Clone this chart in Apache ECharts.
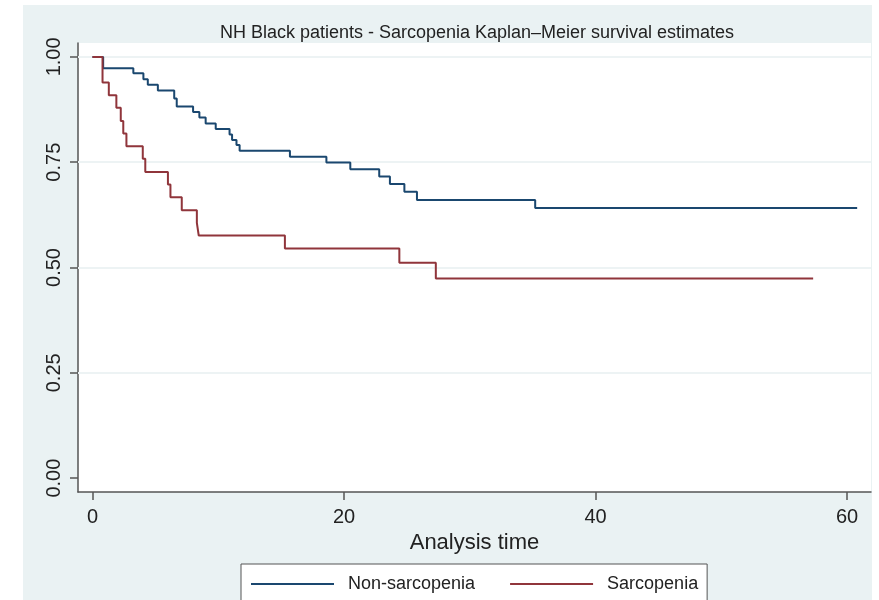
<!DOCTYPE html>
<html>
<head>
<meta charset="utf-8">
<script src="https://cdn.jsdelivr.net/npm/echarts@6/dist/echarts.min.js"></script>
<style>
  html, body { margin: 0; padding: 0; background: #fff; }
  #main { width: 879px; height: 600px; }
</style>
</head>
<body>
<div id="main"></div>
<script>
// survival estimates (time in analysis units)
const blueTime = [0, 0.85, 3.25, 4.05, 4.4, 5.2, 6.5, 6.7, 8.0, 8.5, 9.0, 9.8, 10.9, 11.1, 11.45, 11.7, 15.7, 18.6, 20.5, 22.8, 23.65, 24.8, 25.8, 35.2, 60.8]
const blueSurv = [1, 0.973, 0.961, 0.947, 0.934, 0.920, 0.901, 0.882, 0.869, 0.856, 0.842, 0.829, 0.816, 0.803, 0.791, 0.777, 0.763, 0.749, 0.733, 0.716, 0.698, 0.680, 0.660, 0.641, 0.641]

const redTime = [0, 0.8, 1.3, 1.9, 2.25, 2.45, 2.7, 4.0, 4.2, 6.0, 6.2, 7.1, 8.3, 8.45, 15.3, 24.4, 27.3, 57.3]
const redSurv = [1, 0.939, 0.909, 0.879, 0.848, 0.818, 0.788, 0.758, 0.727, 0.697, 0.667, 0.636, 0.606, 0.576, 0.545, 0.511, 0.474, 0.474]

const seriesNames = ['Non-sarcopenia', 'Sarcopenia']
const xTicks = [0, 20, 40, 60]
const yTicks = [0, 0.25, 0.5, 0.75, 1]
const yGrid = [0.25, 0.5, 0.75, 1]

const FONT = "'Liberation Sans', Arial, sans-serif"
const AXIS_COLOR = '#555'

function pairs(xs, ys) {
  return xs.map((x, i) => [x, ys[i]])
}

const chart = echarts.init(document.getElementById('main'))

chart.setOption({
  animation: false,
  textStyle: { fontFamily: FONT },
  graphic: [{
    type: 'rect',
    z: -10,
    shape: { x: 23, y: 5, width: 849, height: 600 },
    style: { fill: '#eaf2f3' }
  }],
  title: {
    text: 'NH Black patients - Sarcopenia Kaplan\u2013Meier survival estimates',
    left: 472,
    top: 19,
    textAlign: 'center',
    textStyle: { fontSize: 18, fontWeight: 'normal', color: '#222', fontFamily: FONT }
  },
  grid: {
    left: 78, right: 8, top: 43, bottom: 108,
    show: true,
    backgroundColor: '#fff',
    borderWidth: 0
  },
  legend: {
    data: seriesNames,
    icon: 'rect',
    left: 241,
    top: 564,
    padding: [10, 9, 10, 10],
    backgroundColor: '#fff',
    borderColor: '#555',
    borderWidth: 1,
    borderRadius: 0,
    itemGap: 35,
    itemWidth: 83,
    itemHeight: 2,
    textStyle: { fontSize: 18, color: '#222', padding: [0, 0, 0, 9], lineHeight: 20, fontFamily: FONT }
  },
  xAxis: {
    type: 'value',
    min: -1.15,
    max: 61.9,
    name: 'Analysis time',
    nameLocation: 'middle',
    nameGap: 36,
    nameTextStyle: { fontSize: 22, color: '#222', fontFamily: FONT },
    axisLine: { show: true, onZero: false, lineStyle: { color: AXIS_COLOR, width: 1.5 } },
    axisTick: { show: true, length: 8, customValues: xTicks, lineStyle: { color: AXIS_COLOR, width: 1.5 } },
    axisLabel: { customValues: xTicks, fontSize: 20, color: '#222', margin: 15 },
    splitLine: { show: false }
  },
  yAxis: {
    type: 'value',
    min: -0.033,
    max: 1.033,
    axisLine: { show: true, onZero: false, lineStyle: { color: AXIS_COLOR, width: 1.5 } },
    axisTick: { show: true, length: 8, customValues: yTicks, lineStyle: { color: AXIS_COLOR, width: 1.5 } },
    axisLabel: {
      customValues: yTicks,
      rotate: 90,
      fontSize: 20,
      color: '#222',
      margin: 14,
      formatter: v => v.toFixed(2)
    },
    splitLine: { show: false }
  },
  series: [
    {
      // gridlines only
      type: 'line',
      data: [],
      silent: true,
      z: 1,
      markLine: {
        silent: true,
        z: 1,
        symbol: 'none',
        label: { show: false },
        lineStyle: { color: '#edf3f4', width: 2, type: 'solid' },
        data: yGrid.map(v => ({ yAxis: v }))
      }
    },
    {
      name: seriesNames[0],
      type: 'line',
      step: 'end',
      symbol: 'none',
      z: 3,
      data: pairs(blueTime, blueSurv),
      itemStyle: { color: '#1a476f' },
      lineStyle: { color: '#1a476f', width: 2 }
    },
    {
      name: seriesNames[1],
      type: 'line',
      step: 'end',
      symbol: 'none',
      z: 3,
      data: pairs(redTime, redSurv),
      itemStyle: { color: '#90353b' },
      lineStyle: { color: '#90353b', width: 2 }
    }
  ]
})
</script>
</body>
</html>
